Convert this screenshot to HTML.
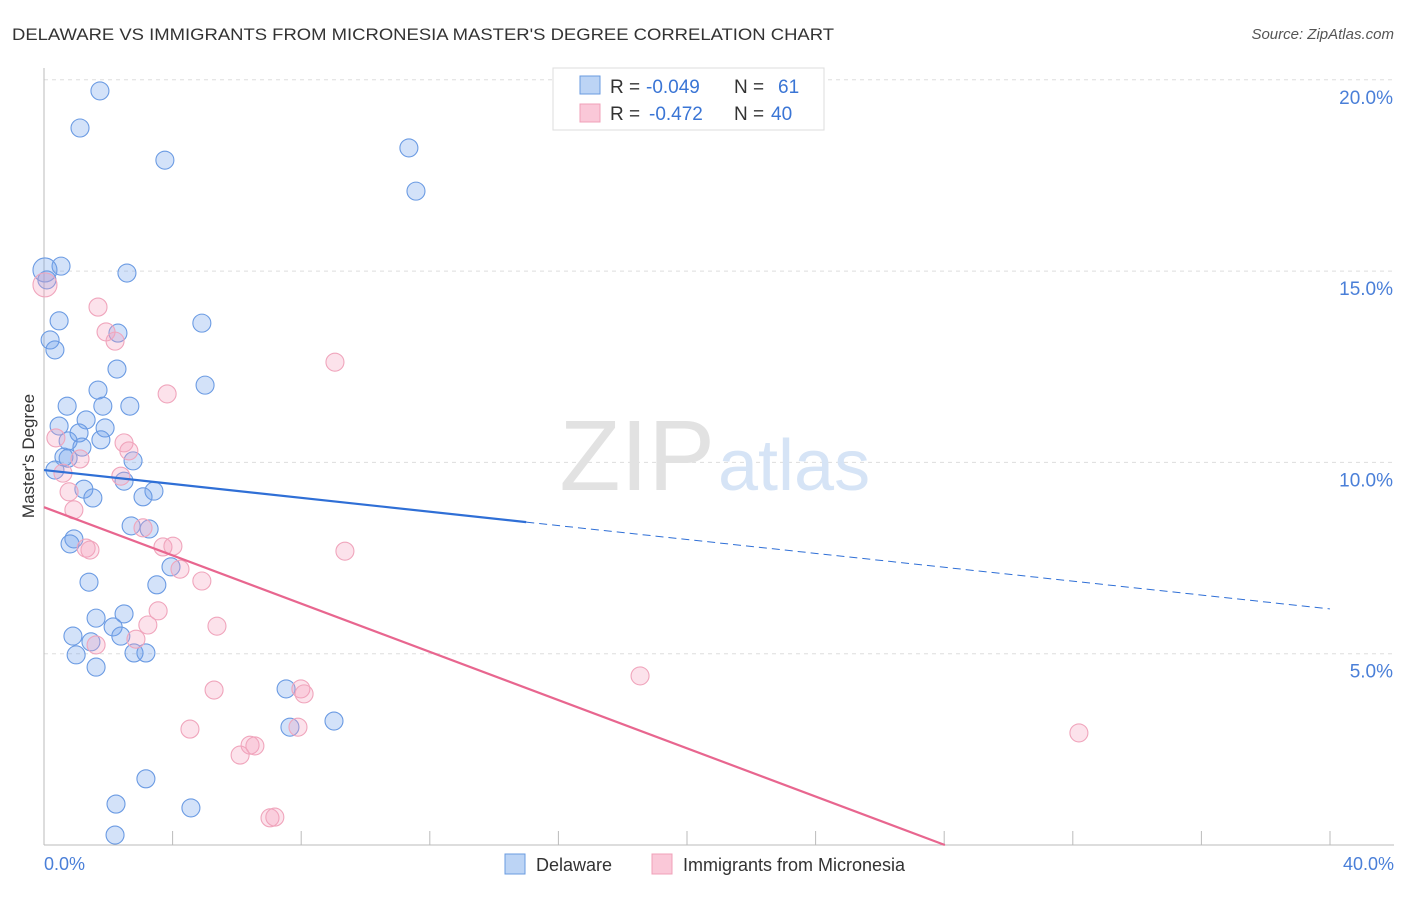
<!DOCTYPE html>
<html><head><meta charset="utf-8"><style>
body{margin:0;background:#fff;font-family:"Liberation Sans",sans-serif}
svg text{font-family:"Liberation Sans",sans-serif}
</style></head><body>
<svg width="1406" height="892" xmlns="http://www.w3.org/2000/svg">
<text x="12" y="40" font-size="17" fill="#333" textLength="822" lengthAdjust="spacingAndGlyphs">DELAWARE VS IMMIGRANTS FROM MICRONESIA MASTER'S DEGREE CORRELATION CHART</text>
<text x="1394" y="39" font-size="15" fill="#555" font-style="italic" text-anchor="end">Source: ZipAtlas.com</text>
<g id="grid"></g>
<text x="715" y="490" font-size="100" fill="#e2e2e2" text-anchor="end" font-family="Liberation Serif">ZIP</text>
<text x="718" y="490" font-size="72" fill="#d6e4f6">atlas</text>
<g id="pts"></g>
<g id="lines"></g>
<text transform="translate(34,456) rotate(-90)" font-size="17" fill="#333" text-anchor="middle">Master's Degree</text>
<text x="44" y="870" font-size="18" fill="#4a7fd8">0.0%</text>
<text x="1394" y="870" font-size="18" fill="#4a7fd8" text-anchor="end">40.0%</text>
<g>
<rect x="553" y="68" width="271" height="62" fill="#fff" stroke="#ddd"/>
<rect x="580" y="76" width="20" height="18" fill="#bcd4f5" stroke="#6a9be0"/>
<rect x="580" y="104" width="20" height="18" fill="#fac8d8" stroke="#f0a0b8"/>
<text x="610" y="93" font-size="19" fill="#333">R =</text>
<text x="646" y="93" font-size="19" fill="#3a75d5">-0.049</text>
<text x="734" y="93" font-size="19" fill="#333">N =</text>
<text x="778" y="93" font-size="19" fill="#3a75d5">61</text>
<text x="610" y="120" font-size="19" fill="#333">R =</text>
<text x="649" y="120" font-size="19" fill="#3a75d5">-0.472</text>
<text x="734" y="120" font-size="19" fill="#333">N =</text>
<text x="771" y="120" font-size="19" fill="#3a75d5">40</text>
</g>
<g>
<rect x="505" y="854" width="20" height="20" fill="#bcd4f5" stroke="#6a9be0"/>
<text x="536" y="871" font-size="18" fill="#333">Delaware</text>
<rect x="652" y="854" width="20" height="20" fill="#fac8d8" stroke="#f0a0b8"/>
<text x="683" y="871" font-size="18" fill="#333">Immigrants from Micronesia</text>
</g>
</svg>
<script>
const yTicks=[5,10,15,20];
const yTickLabels=["5.0%","10.0%","15.0%","20.0%"];
const xTicks=[0,4,8,12,16,20,24,28,32,36,40];
const blueX=[1.74,1.12,3.76,11.35,11.57,0.53,2.58,0.03,0.09,0.47,2.30,4.91,0.19,0.34,2.27,5.01,1.68,0.72,1.83,2.67,1.31,0.47,1.09,1.90,0.75,1.77,1.18,0.62,0.75,2.77,0.34,1.24,2.49,1.52,3.42,3.08,2.71,3.27,0.93,0.81,3.95,1.40,3.51,1.62,2.49,0.90,2.15,2.39,1.46,1.00,2.80,3.17,1.62,7.53,7.65,9.02,3.17,2.24,4.57,2.21];
const blueY=[19.71,18.74,17.90,18.22,17.09,15.13,14.95,15.03,14.77,13.70,13.38,13.64,13.20,12.94,12.44,12.02,11.89,11.47,11.47,11.47,11.11,10.95,10.77,10.90,10.56,10.59,10.40,10.14,10.11,10.04,9.80,9.30,9.51,9.07,9.25,9.10,8.34,8.26,8.00,7.87,7.27,6.87,6.80,5.93,6.04,5.46,5.70,5.46,5.31,4.97,5.02,5.02,4.65,4.08,3.08,3.24,1.73,1.07,0.97,0.26];
const pinkX=[0.03,1.68,1.93,2.21,9.05,3.83,0.37,2.49,2.64,1.12,0.59,2.39,0.78,0.93,1.31,1.43,3.70,4.01,3.08,9.36,4.23,4.91,3.55,3.23,5.38,2.86,1.62,18.54,5.29,7.99,8.09,4.54,7.90,6.41,6.56,6.10,32.19,7.03,7.18];
const pinkY=[14.64,14.06,13.41,13.17,12.62,11.79,10.64,10.51,10.30,10.09,9.72,9.64,9.23,8.76,7.76,7.71,7.79,7.81,8.29,7.68,7.21,6.90,6.12,5.75,5.72,5.38,5.23,4.42,4.05,4.08,3.95,3.03,3.08,2.61,2.59,2.35,2.93,0.71,0.73];
const blueTrend=[9.80,6.17], blueSolidEnd=15.0;
const pinkTrend=[8.83,0], pinkEnd=28.02;
const NS="http://www.w3.org/2000/svg";
const X=v=>44+v/40*1286, Y=v=>845-v*38.26;
function mk(t,a,p){const e=document.createElementNS(NS,t);for(const k in a)e.setAttribute(k,a[k]);p.appendChild(e);return e;}
const g=document.getElementById('grid');
yTicks.forEach((t,i)=>{
 const l=mk('line',{x1:44,x2:1394,y1:Y(t),y2:Y(t),stroke:'#ddd','stroke-dasharray':'4,4'},g);
 
 
 const tx=mk('text',{x:1393,y:Y(t)+24,'font-size':19,fill:'#4a7fd8','text-anchor':'end'},g);
 tx.textContent=yTickLabels[i];
 
 
});
const ax=mk('line',{x1:44,x2:1394,y1:845,y2:845,stroke:'#bbb'},g);


const ay=mk('line',{x1:44,x2:44,y1:68,y2:845,stroke:'#bbb'},g);


xTicks.forEach(t=>{
 const l=mk('line',{x1:X(t),x2:X(t),y1:831,y2:845,stroke:'#bbb'},g);
 
 
});
const p=document.getElementById('pts');
blueX.forEach((x,i)=>{
 const c=mk('circle',{cx:X(x),cy:Y(blueY[i]),r:i==7?12:9,fill:'rgba(110,160,235,0.3)',stroke:'#6b9be3','stroke-width':1.1},p);
 
 
});
pinkX.forEach((x,i)=>{
 const c=mk('circle',{cx:X(x),cy:Y(pinkY[i]),r:i==0?12:9,fill:'rgba(245,160,190,0.3)',stroke:'#f0a5bc','stroke-width':1.1},p);
 
 
});
const L=document.getElementById('lines');
const by=x=>blueTrend[0]+(blueTrend[1]-blueTrend[0])*x/40;
const b1=mk('line',{x1:X(0),y1:Y(by(0)),x2:X(blueSolidEnd),y2:Y(by(blueSolidEnd)),stroke:'#2f6fd6','stroke-width':2.2},L);


const b2=mk('line',{x1:X(blueSolidEnd),y1:Y(by(blueSolidEnd)),x2:X(40),y2:Y(by(40)),stroke:'#2f6fd6','stroke-width':1,'stroke-dasharray':'8,5'},L);


const p1=mk('line',{x1:X(0),y1:Y(pinkTrend[0]),x2:X(pinkEnd),y2:Y(pinkTrend[1]),stroke:'#e8668f','stroke-width':2.2},L);


</script>
</body></html>
